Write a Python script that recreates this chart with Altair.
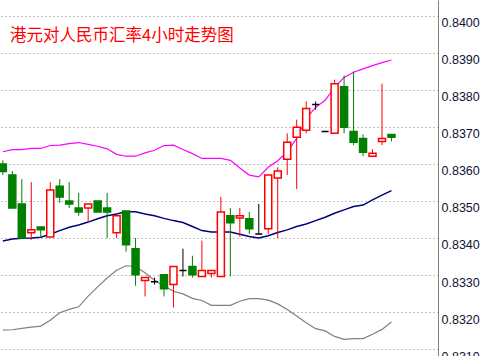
import altair as alt
import pandas as pd

title_text = "港元对人民币汇率4小时走势图"

opens  = [0.83600, 0.83570, 0.83492, 0.83414, 0.83430, 0.83403, 0.83540, 0.83500, 0.83481, 0.83481,
          0.83500, 0.83481, 0.83414, 0.83473, 0.83371, 0.83285, 0.83282, 0.83301, 0.83274, 0.83312,
          0.83323, 0.83296, 0.83304, 0.83296, 0.83460, 0.83454, 0.83452, 0.83411, 0.83425, 0.83562,
          0.83613, 0.83672, 0.83691, 0.83761, 0.83688, 0.83683, 0.83809, 0.83688, 0.83669, 0.83621,
          0.83661, 0.83680]
highs  = [0.83610, 0.83581, 0.83559, 0.83551, 0.83430, 0.83551, 0.83559, 0.83551, 0.83522, 0.83492,
          0.83500, 0.83522, 0.83460, 0.83473, 0.83400, 0.83293, 0.83293, 0.83301, 0.83323, 0.83371,
          0.83352, 0.83393, 0.83312, 0.83511, 0.83481, 0.83481, 0.83470, 0.83492, 0.83570, 0.83591,
          0.83683, 0.83720, 0.83769, 0.83769, 0.83688, 0.83828, 0.83839, 0.83850, 0.83680, 0.83640,
          0.83817, 0.83680]
lows   = [0.83570, 0.83481, 0.83400, 0.83395, 0.83400, 0.83403, 0.83495, 0.83481, 0.83460, 0.83443,
          0.83470, 0.83400, 0.83400, 0.83363, 0.83271, 0.83242, 0.83274, 0.83242, 0.83212, 0.83296,
          0.83293, 0.83296, 0.83293, 0.83296, 0.83296, 0.83403, 0.83411, 0.83411, 0.83411, 0.83400,
          0.83570, 0.83532, 0.83683, 0.83747, 0.83688, 0.83683, 0.83683, 0.83651, 0.83621, 0.83621,
          0.83651, 0.83661]
closes = [0.83580, 0.83481, 0.83400, 0.83422, 0.83422, 0.83530, 0.83511, 0.83492, 0.83470, 0.83492,
          0.83470, 0.83470, 0.83460, 0.83382, 0.83301, 0.83293, 0.83282, 0.83263, 0.83323, 0.83312,
          0.83301, 0.83312, 0.83312, 0.83470, 0.83441, 0.83460, 0.83425, 0.83411, 0.83570, 0.83581,
          0.83659, 0.83699, 0.83750, 0.83761, 0.83688, 0.83817, 0.83699, 0.83659, 0.83632, 0.83629,
          0.83669, 0.83672]

upper = [0.83633, 0.83639, 0.83639, 0.83642, 0.83642, 0.83650, 0.83651, 0.83655, 0.83658, 0.83653,
         0.83648, 0.83641, 0.83626, 0.83621, 0.83621, 0.83630, 0.83637, 0.83650, 0.83651, 0.83639,
         0.83628, 0.83615, 0.83615, 0.83615, 0.83610, 0.83589, 0.83570, 0.83565, 0.83591, 0.83609,
         0.83633, 0.83669, 0.83723, 0.83753, 0.83772, 0.83807, 0.83834, 0.83848, 0.83857, 0.83866,
         0.83874, 0.83881]
middle = [0.83392, 0.83397, 0.83399, 0.83400, 0.83402, 0.83410, 0.83420, 0.83429, 0.83435, 0.83443,
          0.83452, 0.83460, 0.83465, 0.83471, 0.83471, 0.83465, 0.83460, 0.83453, 0.83447, 0.83442,
          0.83431, 0.83420, 0.83416, 0.83416, 0.83416, 0.83410, 0.83404, 0.83400, 0.83406, 0.83415,
          0.83422, 0.83431, 0.83438, 0.83447, 0.83456, 0.83467, 0.83476, 0.83485, 0.83489, 0.83503,
          0.83516, 0.83528]
lower = [0.83151, 0.83152, 0.83156, 0.83159, 0.83162, 0.83178, 0.83198, 0.83207, 0.83214, 0.83243,
         0.83268, 0.83292, 0.83313, 0.83325, 0.83323, 0.83306, 0.83286, 0.83270, 0.83256, 0.83249,
         0.83237, 0.83231, 0.83218, 0.83218, 0.83218, 0.83229, 0.83236, 0.83236, 0.83232, 0.83222,
         0.83207, 0.83189, 0.83171, 0.83155, 0.83149, 0.83134, 0.83126, 0.83128, 0.83128, 0.83140,
         0.83153, 0.83173]

y_ticks = [0.8310, 0.8320, 0.8330, 0.8340, 0.8350, 0.8360, 0.8370, 0.8380, 0.8390, 0.8400]

n = len(opens)
kinds = []
for o, c in zip(opens, closes):
    if abs(o - c) < 1e-7:
        kinds.append("doji")
    elif c > o:
        kinds.append("up")
    else:
        kinds.append("down")

df = pd.DataFrame({
    "i": list(range(n)),
    "open": opens, "high": highs, "low": lows, "close": closes,
    "kind": kinds,
    "upper": upper, "middle": middle, "lower": lower,
})

xscale = alt.Scale(domain=[0.2268, 45.38], nice=False, zero=False)
yscale = alt.Scale(domain=[0.830811, 0.840432], nice=False, zero=False)

X = alt.X("i:Q", scale=xscale, axis=None)

base = alt.Chart(df)

grid_layer = base.mark_rule(opacity=0).encode(
    x=X,
    y=alt.Y("high:Q", scale=yscale,
            axis=alt.Axis(orient="right", values=y_ticks, tickCount=len(y_ticks) + 10,
                          format=".4f", title=None,
                          grid=True, gridColor="#808080", gridDash=[1, 3], gridWidth=1,
                          ticks=False, labelPadding=3, labelBaseline="top", labelOffset=1,
                          labelFont="Liberation Sans", labelFontSize=12.5, labelColor="#111133",
                          labelOverlap=False, labelFlush=False,
                          domainColor="#808080", domainWidth=1)),
)

kind_colors = alt.Scale(domain=["up", "down", "doji"], range=["#ff0000", "#008000", "#000000"])

wicks = base.mark_rule(strokeWidth=1, clip=True).encode(
    x=X,
    y=alt.Y("low:Q", scale=yscale),
    y2="high:Q",
    color=alt.Color("kind:N", scale=kind_colors, legend=None),
)

bodies = base.mark_bar(size=7, strokeWidth=1.5, clip=True).encode(
    x=X,
    y=alt.Y("open:Q", scale=yscale),
    y2="close:Q",
    stroke=alt.Color("kind:N", scale=kind_colors, legend=None),
    fill=alt.Fill("kind:N", scale=alt.Scale(domain=["up", "down", "doji"],
                                              range=["#ffffff", "#008000", "#000000"]), legend=None),
)

up_line = base.mark_line(color="#ff00ff", strokeWidth=1.2, clip=True).encode(
    x=X, y=alt.Y("upper:Q", scale=yscale))
mid_line = base.mark_line(color="#000080", strokeWidth=1.5, clip=True).encode(
    x=X, y=alt.Y("middle:Q", scale=yscale))
low_line = base.mark_line(color="#808080", strokeWidth=1.2, clip=True).encode(
    x=X, y=alt.Y("lower:Q", scale=yscale))

title_layer = alt.Chart(pd.DataFrame({"t": [title_text]})).mark_text(
    align="left", baseline="middle", color="#ff0000",
    font="Noto Sans CJK SC", fontSize=16.5,
).encode(x=alt.value(10), y=alt.value(36), text="t:N")

chart = alt.layer(grid_layer, up_line, mid_line, low_line, wicks, bodies, title_layer).properties(
    width=438, height=356,
    autosize=alt.AutoSizeParams(type="none"),
    padding={"left": 0, "top": 0, "right": 42, "bottom": 0},
    background="#ffffff",
).configure_view(stroke=None)

chart.save("out.html", embed_options={"renderer": "svg", "actions": False})
